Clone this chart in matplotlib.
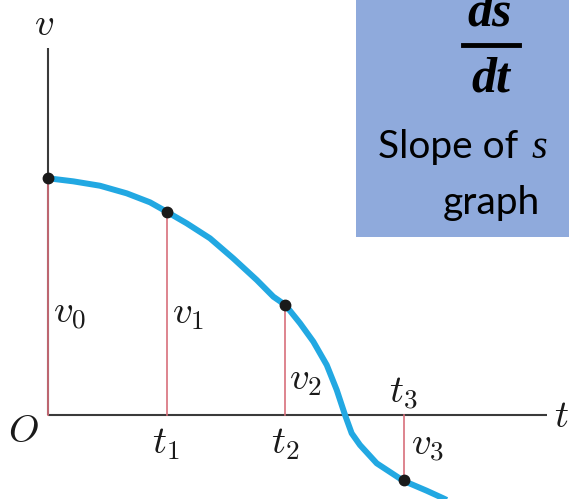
import matplotlib
matplotlib.use("Agg")
import matplotlib.pyplot as plt
from matplotlib.patches import Rectangle
from matplotlib.lines import Line2D

# sample times and velocities (t1 = 1 unit)
t_marks = [0.0, 1.0, 2.0, 3.0]
v_marks = [2.0, 1.71, 0.93, -0.55]
v_labels = [r"$v_0$", r"$v_1$", r"$v_2$", r"$v_3$"]
t_labels = [r"$t_1$", r"$t_2$", r"$t_3$"]

# velocity curve
curve_t = [0.0, 0.213, 0.438, 0.663, 0.860, 1.0, 1.169, 1.365, 1.561, 1.759,
           1.899, 2.0, 2.124, 2.236, 2.349, 2.433, 2.503, 2.559, 2.629, 2.770,
           2.994, 3.191, 3.331, 3.43]
curve_v = [1.995, 1.969, 1.932, 1.868, 1.792, 1.713, 1.615, 1.489, 1.320, 1.138,
           0.997, 0.927, 0.773, 0.618, 0.421, 0.211, 0.0, -0.154, -0.253, -0.407,
           -0.554, -0.638, -0.702, -0.75]

W, H = 569, 499
ORIGIN_X, ORIGIN_Y = 48, 415  # pixel position of O
SCALE = 118.67  # pixels per unit

plt.rcParams["mathtext.fontset"] = "cm"

fig = plt.figure(figsize=(W / 100, H / 100), dpi=100, facecolor="white")
ax = fig.add_axes([0, 0, 1, 1])
ax.set_xlim(-ORIGIN_X / SCALE, (W - ORIGIN_X) / SCALE)
ax.set_ylim(-(H - ORIGIN_Y) / SCALE, ORIGIN_Y / SCALE)
ax.axis("off")

axis_color = "#3a3a3a"
ax.plot([0, 0], [0, (ORIGIN_Y - 48) / SCALE], color=axis_color, lw=1.5, solid_capstyle="butt", zorder=2)
ax.plot([0, (547 - ORIGIN_X) / SCALE], [0, 0], color=axis_color, lw=1.5, solid_capstyle="butt", zorder=2)

for t, v in zip(t_marks, v_marks):
    ax.plot([t, t], [0, v], color="#d8707c", lw=1.2, zorder=3)

ax.plot(curve_t, curve_v, color="#22a8e2", lw=4.3, solid_joinstyle="round",
        solid_capstyle="butt", zorder=4)
ax.plot(t_marks, v_marks, "o", color="#1a1a1a", ms=7.5, zorder=5)


def px(x, y):
    return x / W, 1 - y / H


lab = dict(fontsize=28, color="#1a1a1a")
fig.text(*px(44, 24), r"$v$", ha="center", va="center", **lab)
fig.text(*px(23, 431), r"$O$", ha="center", va="center", **lab)
fig.text(*px(561, 416), r"$t$", ha="center", va="center", **lab)

v_label_pos = [(53, 313), (172, 313), (289, 379), (411, 445)]
for (x, y), s in zip(v_label_pos, v_labels):
    fig.text(*px(x, y), s, ha="left", va="center", **lab)

t_label_pos = [(166, 443), (285, 443), (403, 393)]
for (x, y), s in zip(t_label_pos, t_labels):
    fig.text(*px(x, y), s, ha="center", va="center", **lab)

# info box
box_x0, box_y1 = 356, 237
fig.patches.append(Rectangle(px(box_x0, box_y1), (W - box_x0) / W, box_y1 / H,
                             transform=fig.transFigure, facecolor="#8faadc",
                             edgecolor="none", zorder=1))
frac = dict(fontsize=36, fontweight="bold", style="italic", family="Liberation Serif",
            color="black", ha="center")
fig.text(*px(490, 25), "ds", va="baseline", **frac)
fig.add_artist(Line2D([463 / W, 519 / W], [1 - 45 / H, 1 - 45 / H], transform=fig.transFigure,
                      color="black", lw=3.5))
fig.text(*px(491, 91), "dt", va="baseline", **frac)

fig.text(*px(378, 158), "Slope of", fontsize=28, family="Lato", color="black",
         ha="left", va="baseline")
fig.text(*px(531, 158), "s", fontsize=29, family="Liberation Serif", style="italic",
         color="black", ha="left", va="baseline")
fig.text(*px(491, 214), "graph", fontsize=28, family="Lato", color="black",
         ha="center", va="baseline")

fig.savefig("out.png", dpi=100, facecolor="white")
